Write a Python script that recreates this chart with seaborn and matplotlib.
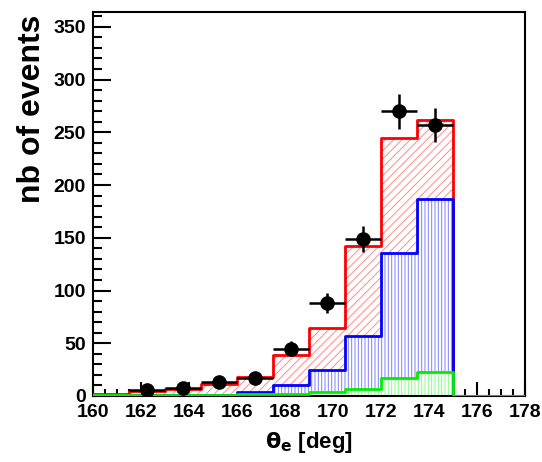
import numpy as np
import seaborn as sns
import matplotlib
matplotlib.use("Agg")
import matplotlib.pyplot as plt
from matplotlib.ticker import MultipleLocator

# bin edges in theta_e [deg], 1.5 deg wide
bin_edges = [160.0, 161.5, 163.0, 164.5, 166.0, 167.5, 169.0,
             170.5, 172.0, 173.5, 175.0, 176.5, 178.0]
bin_centers = [161.25, 162.75, 164.25, 165.75, 167.25, 168.75,
               170.25, 171.75, 173.25, 174.75, 176.25, 177.75]

# simulated contributions
red_total = [1.5, 4.7, 6.6, 11.0, 18.3, 39.0, 64.0, 142.0, 245.0, 262.0, 0.0, 0.0]
blue_part = [0.3, 0.5, 0.6, 1.0, 3.5, 10.4, 24.5, 57.0, 136.0, 187.0, 0.0, 0.0]
green_part = [0.8, 1.0, 1.0, 1.0, 1.5, 2.0, 3.5, 6.5, 17.2, 23.0, 0.0, 0.0]

# measured points
data_x = [162.25, 163.75, 165.25, 166.75, 168.25, 169.75, 171.25, 172.75, 174.25]
data_y = [6.0, 7.5, 13.3, 16.8, 45.0, 88.0, 149.0, 270.0, 257.0]
data_yerr = [2.4, 2.7, 3.6, 4.1, 6.7, 9.4, 12.2, 16.4, 16.0]
data_xerr = [0.75] * len(data_x)

sns.set_theme(style="white")
plt.rcParams['font.family'] = ['Liberation Sans', 'DejaVu Sans']
plt.rcParams['font.weight'] = 'bold'
plt.rcParams['mathtext.fontset'] = 'dejavusans'
plt.rcParams['hatch.linewidth'] = 0.7
plt.rcParams['text.color'] = 'black'
plt.rcParams['axes.labelcolor'] = 'black'

fig = plt.figure(figsize=(5.42, 4.62), dpi=100)
ax = fig.add_axes([0.1716, 0.1429, 0.797, 0.831])

layers = [
    (red_total, '#ff0000', '#ff8c8c', '////'),
    (blue_part, '#0000ff', '#8080ff', '|||||'),
    (green_part, '#00ee00', '#88ff88', '|||||'),
]
for vals, line_col, hatch_col, hatch in layers:
    with plt.rc_context({'hatch.color': hatch_col}):
        sns.histplot(x=bin_centers, weights=vals, bins=bin_edges, element='step',
                     fill=True, facecolor='white', edgecolor=hatch_col,
                     linewidth=0, hatch=hatch, ax=ax)
    sns.histplot(x=bin_centers, weights=vals, bins=bin_edges, element='step',
                 fill=False, color=line_col, linewidth=2.0, ax=ax, zorder=3)

ax.errorbar(data_x, data_y, xerr=data_xerr, yerr=data_yerr, fmt='o',
            color='black', markersize=9.5, elinewidth=1.8, capsize=0, zorder=4)

ax.set_xlim(160, 178)
ax.set_ylim(0, 364)
ax.xaxis.set_major_locator(MultipleLocator(2))
ax.xaxis.set_minor_locator(MultipleLocator(0.5))
ax.yaxis.set_major_locator(MultipleLocator(50))
ax.yaxis.set_minor_locator(MultipleLocator(10))

ax.tick_params(axis='both', which='both', direction='in', color='black', width=1.5,
               bottom=True, left=True, top=False, right=False,
               labelsize=14, labelcolor='black')
ax.tick_params(axis='x', which='major', length=10, pad=6)
ax.tick_params(axis='x', which='minor', length=5)
ax.tick_params(axis='y', which='major', length=13, pad=5)
ax.tick_params(axis='y', which='minor', length=6.5)
for lab in ax.get_xticklabels() + ax.get_yticklabels():
    lab.set_fontweight('bold')

for sp in ax.spines.values():
    sp.set_color('black')
    sp.set_linewidth(1.5)

ax.set_xlabel(r'$\mathrm{\theta}_{\mathbf{e}}$ [deg]', fontsize=16,
              fontweight='bold', color='black', labelpad=6)
ax.set_ylabel('nb of events', fontsize=23, fontweight='bold', color='black')
ax.yaxis.set_label_coords(-0.106, 0.747)

fig.savefig('out.png', dpi=100)
